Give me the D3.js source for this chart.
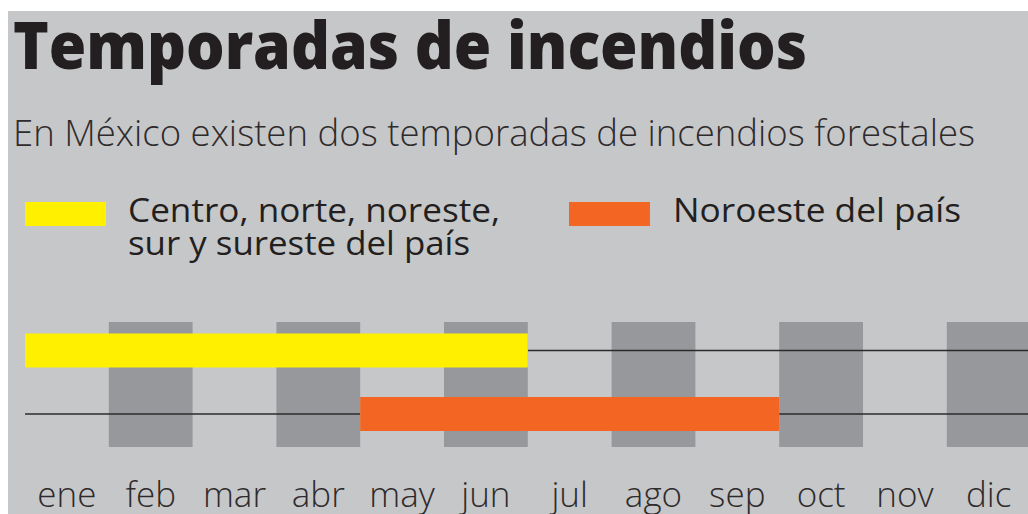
<!DOCTYPE html>
<html>
<head>
<meta charset="utf-8">
<script src="https://cdn.jsdelivr.net/npm/d3@7"></script>
<style>
  html, body { margin: 0; padding: 0; background: #ffffff; }
  svg { display: block; }
</style>
</head>
<body>
<svg id="chart" width="1028" height="514"></svg>
<script>
// ---- data ----
const months = ["ene", "feb", "mar", "abr", "may", "jun", "jul", "ago", "sep", "oct", "nov", "dic"];
const shadedMonths = ["feb", "abr", "jun", "ago", "oct", "dic"];
const seriesNames = ["Centro, norte, noreste, sur y sureste del país", "Noroeste del país"];
const seriesLegendLines = [["Centro, norte, noreste,", "sur y sureste del país"], ["Noroeste del país"]];
const seriesStart = ["ene", "may"];
const seriesEnd = ["jun", "sep"];
const titleText = "Temporadas de incendios";
const subtitleText = "En México existen dos temporadas de incendios forestales";

// ---- styles ----
const seriesColors = ["#fff000", "#f26522"];
const bgColor = "#c6c7c9";
const bandColor = "#97989b";
const textColor = "#231f20";

const W = 1028, H = 514;
const svg = d3.select("#chart");

// background panel
svg.append("rect").attr("x", 8).attr("y", 11).attr("width", W - 8).attr("height", H - 11).attr("fill", bgColor);

// title
svg.append("text")
  .attr("x", 13).attr("y", 69)
  .attr("font-family", "'Open Sans', sans-serif")
  .attr("font-weight", 800)
  .attr("font-size", 65)
  .attr("fill", textColor)
  .attr("textLength", 794)
  .attr("lengthAdjust", "spacingAndGlyphs")
  .text(titleText);

// subtitle
svg.append("text")
  .attr("x", 13).attr("y", 146)
  .attr("font-family", "'Open Sans', sans-serif")
  .attr("font-weight", 300)
  .attr("font-size", 37)
  .attr("fill", "#2e2b2c")
  .attr("textLength", 962)
  .attr("lengthAdjust", "spacingAndGlyphs")
  .text(subtitleText);

// legend
const legendX = [25, 569];
const legendTextX = [128, 673];
const legendWidths = [[372, 342], [288]];
seriesNames.forEach((name, i) => {
  svg.append("rect")
    .attr("x", legendX[i]).attr("y", 202)
    .attr("width", 81).attr("height", 24)
    .attr("fill", seriesColors[i]);
  seriesLegendLines[i].forEach((line, j) => {
    svg.append("text")
      .attr("x", legendTextX[i]).attr("y", 222 + j * 33)
      .attr("font-family", "'Open Sans', sans-serif")
      .attr("font-weight", 400)
      .attr("font-size", 32)
      .attr("fill", textColor)
      .attr("textLength", legendWidths[i][j])
      .attr("lengthAdjust", "spacingAndGlyphs")
      .text(line);
  });
});

// scales
const x = d3.scaleBand().domain(months).range([25, 25 + 12 * 83.8]).padding(0);
const y = d3.scalePoint().domain(seriesNames).range([350.5, 414]);
const barH = 34;

// shaded month columns
svg.append("g").selectAll("rect")
  .data(shadedMonths)
  .join("rect")
  .attr("x", d => x(d))
  .attr("y", 322)
  .attr("width", x.bandwidth())
  .attr("height", 125)
  .attr("fill", bandColor);

// baseline lines (outside season)
const lineG = svg.append("g").attr("stroke", "#2b2b2b").attr("stroke-width", 1.6);
seriesNames.forEach((name, i) => {
  const s = x(seriesStart[i]);
  const e = x(seriesEnd[i]) + x.bandwidth();
  const x0 = x(months[0]);
  const x1 = W;
  if (s > x0) lineG.append("line").attr("x1", x0).attr("x2", s).attr("y1", y(name)).attr("y2", y(name));
  if (e < x1) lineG.append("line").attr("x1", e).attr("x2", x1).attr("y1", y(name)).attr("y2", y(name));
});

// season bars
svg.append("g").selectAll("rect")
  .data(seriesNames)
  .join("rect")
  .attr("x", (d, i) => x(seriesStart[i]))
  .attr("width", (d, i) => x(seriesEnd[i]) + x.bandwidth() - x(seriesStart[i]))
  .attr("y", d => y(d) - barH / 2)
  .attr("height", barH)
  .attr("fill", (d, i) => seriesColors[i]);

// month labels
svg.append("g").selectAll("text")
  .data(months)
  .join("text")
  .attr("x", d => x(d) + x.bandwidth() / 2)
  .attr("y", 507)
  .attr("text-anchor", "middle")
  .attr("font-family", "'Open Sans', sans-serif")
  .attr("font-weight", 300)
  .attr("font-size", 35)
  .attr("fill", "#2e2b2c")
  .text(d => d);
</script>
</body>
</html>
